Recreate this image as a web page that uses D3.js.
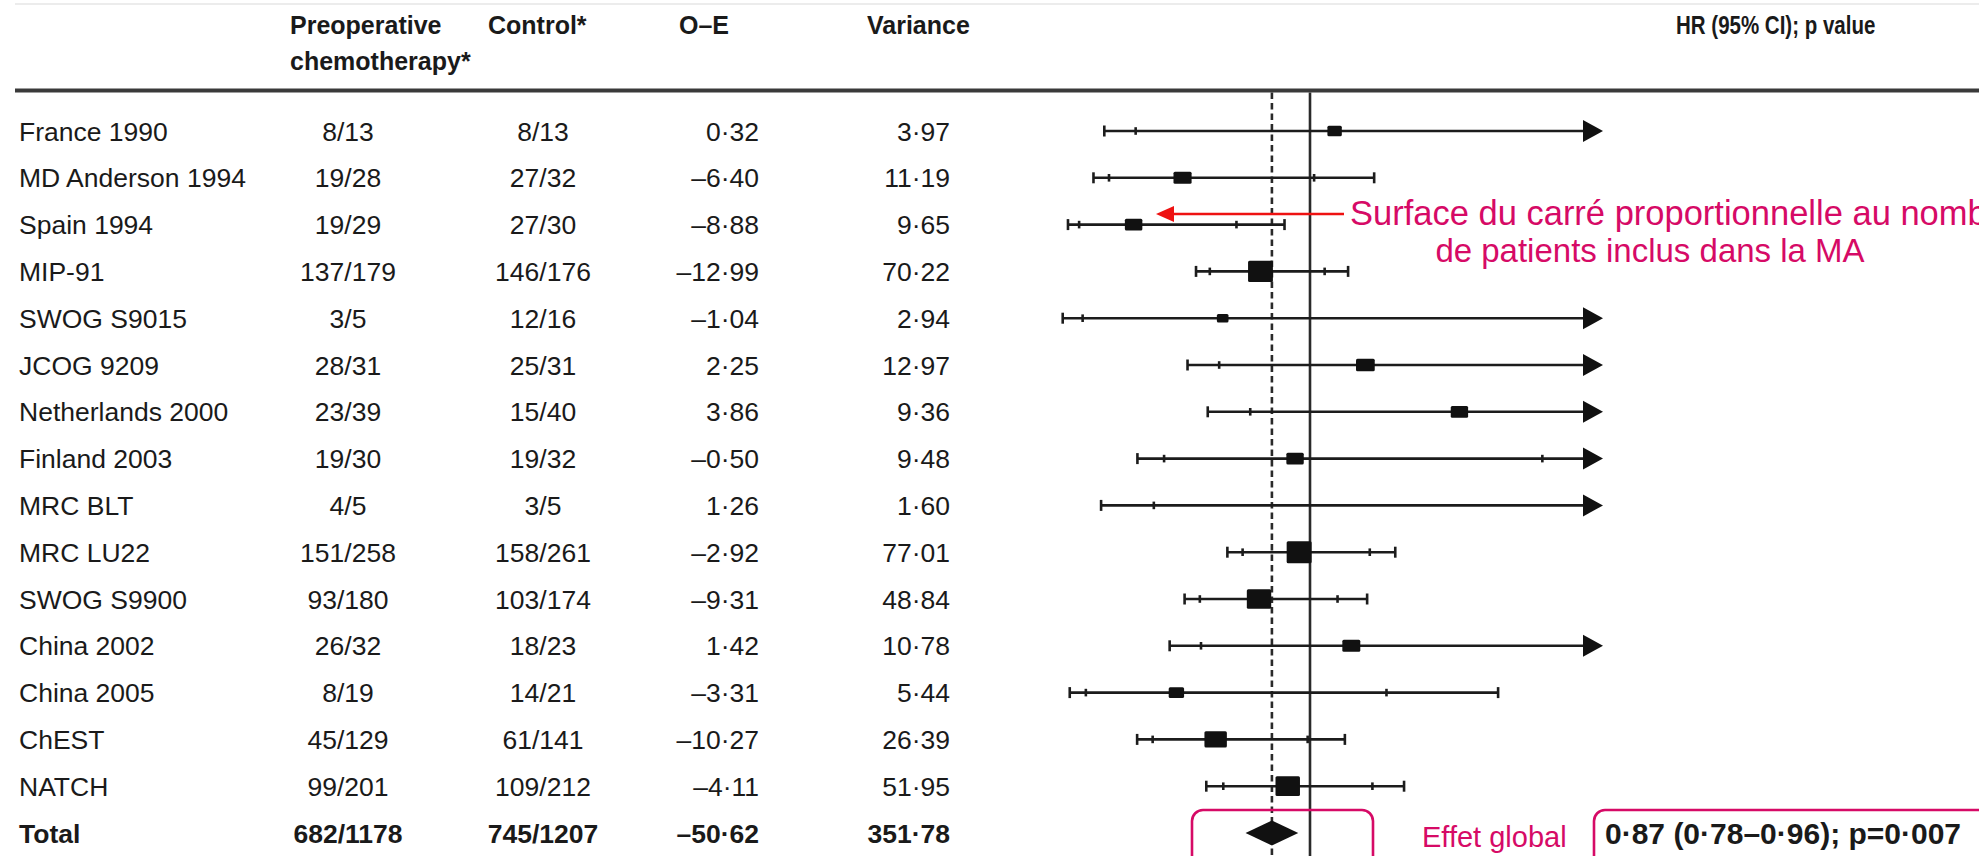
<!DOCTYPE html>
<html>
<head>
<meta charset="utf-8">
<script src="https://cdn.jsdelivr.net/npm/d3@7"></script>
<style>
  html, body { margin: 0; padding: 0; background: #fff; overflow: hidden; }
  svg { display: block; }
  .tbl { font-family: "Liberation Sans", Arial, sans-serif; font-size: 26.5px; fill: #1a1a1a; }
  .hdr { font-weight: bold; font-size: 25px; }
  .note { font-family: "Liberation Sans", Arial, sans-serif; font-size: 33px; fill: #d60a66; }
</style>
</head>
<body>
<svg id="chart" width="1979" height="856"></svg>
<script>
// ---- Trial data ----
const studies = ["France 1990", "MD Anderson 1994", "Spain 1994", "MIP-91", "SWOG S9015",
  "JCOG 9209", "Netherlands 2000", "Finland 2003", "MRC BLT", "MRC LU22",
  "SWOG S9900", "China 2002", "China 2005", "ChEST", "NATCH"];
const preop = ["8/13", "19/28", "19/29", "137/179", "3/5", "28/31", "23/39", "19/30", "4/5",
  "151/258", "93/180", "26/32", "8/19", "45/129", "99/201"];
const control = ["8/13", "27/32", "27/30", "146/176", "12/16", "25/31", "15/40", "19/32", "3/5",
  "158/261", "103/174", "18/23", "14/21", "61/141", "109/212"];
const oe = [0.32, -6.40, -8.88, -12.99, -1.04, 2.25, 3.86, -0.50, 1.26, -2.92, -9.31, 1.42, -3.31, -10.27, -4.11];
const variance = [3.97, 11.19, 9.65, 70.22, 2.94, 12.97, 9.36, 9.48, 1.60, 77.01, 48.84, 10.78, 5.44, 26.39, 51.95];

// Hazard ratios with 95% (inner ticks) and 99% (line ends) confidence limits
const hr   = [1.084, 0.565, 0.398, 0.831, 0.702, 1.189, 1.510, 0.949, 2.198, 0.963, 0.826, 1.141, 0.544, 0.678, 0.924];
const lo99 = [0.298, 0.261, 0.174, 0.611, 0.156, 0.582, 0.651, 0.411, 0.287, 0.718, 0.572, 0.521, 0.180, 0.410, 0.646];
const lo95 = [0.405, 0.314, 0.212, 0.658, 0.224, 0.690, 0.796, 0.502, 0.467, 0.770, 0.624, 0.628, 0.235, 0.463, 0.704];
const hi95 = [2.899, 1.014, 0.749, 1.050, 2.202, 2.050, 2.866, 1.793, 10.35, 1.204, 1.094, 2.072, 1.261, 0.992, 1.213];
const hi99 = [3.949, 1.219, 0.913, 1.130, 3.154, 2.432, 3.506, 2.190, 16.84, 1.291, 1.195, 2.500, 1.642, 1.119, 1.321];

// Pooled result
const totalLabel = "Total";
const totalPreop = "682/1178";
const totalControl = "745/1207";
const totalOE = -50.62;
const totalVariance = 351.78;
const totalHR = 0.87;
const totalLo = 0.78;
const totalHi = 0.96;
const totalP = 0.007;

// Column headings
const headPreop = ["Preoperative", "chemotherapy*"];
const headControl = "Control*";
const headOE = "O–E";
const headVar = "Variance";
const headHR = "HR (95% CI); p value";

// Annotations
const noteSquare = ["Surface du carré proportionnelle au nombre", "de patients inclus dans la MA"];
const noteGlobal = "Effet global";

// ---- Helpers ----
const fmt = (v, d = 2) => (v < 0 ? "–" : "") + Math.abs(v).toFixed(d).replace(".", "·");

const svg = d3.select("#chart");
const W = 1979, H = 856;

const rows = [...studies, totalLabel];
const y = d3.scalePoint().domain(rows).range([131, 833]);
const x = d3.scaleLinear().domain([0, 2]).range([1017, 1603]);
const [hrMin, hrMax] = x.domain();

// box size grows with the square root of the variance
const boxW = d3.scaleLinear().domain([1.7, 2, 3.3, 5.1, 7, 8.8]).range([11.5, 14.5, 18, 22.4, 24.4, 25]).clamp(true);
const boxH = d3.scaleLinear().domain([1.7, 2, 3.3, 5.1, 7, 8.8]).range([8.5, 10.5, 12, 16, 19.5, 22]).clamp(true);

// ---- Rules ----
svg.append("line").attr("x1", 15).attr("x2", W).attr("y1", 4).attr("y2", 4)
  .attr("stroke", "#ececec").attr("stroke-width", 2);
svg.append("line").attr("x1", 15).attr("x2", W).attr("y1", 90.5).attr("y2", 90.5)
  .attr("stroke", "#3a3a3a").attr("stroke-width", 4);

// ---- Headings ----
const hg = svg.append("g").attr("class", "tbl hdr");
hg.append("text").attr("x", 290).attr("y", 34).text(headPreop[0]);
hg.append("text").attr("x", 290).attr("y", 70).text(headPreop[1]);
hg.append("text").attr("x", 488).attr("y", 34).text(headControl);
hg.append("text").attr("x", 679).attr("y", 34).text(headOE);
hg.append("text").attr("x", 867).attr("y", 34).text(headVar);
// condensed heading over the estimate column
const hrSqueeze = 0.82;
hg.append("g").attr("transform", `translate(1676,34) scale(${hrSqueeze},1)`)
  .append("text").attr("x", 0).attr("y", 0).text(headHR);

// ---- Table body ----
const tableRows = studies.map((s, i) => ({
  name: s, pre: preop[i], ctl: control[i], oe: oe[i], v: variance[i], bold: false
}));
tableRows.push({ name: totalLabel, pre: totalPreop, ctl: totalControl, oe: totalOE, v: totalVariance, bold: true });

const tg = svg.append("g").attr("class", "tbl");
const tr = tg.selectAll("g.row").data(tableRows).join("g")
  .attr("class", "row")
  .attr("transform", d => `translate(0,${y(d.name) + 9.5})`)
  .style("font-weight", d => d.bold ? "bold" : null);
tr.append("text").attr("x", 19).text(d => d.name);
tr.append("text").attr("x", 348).attr("text-anchor", "middle").text(d => d.pre);
tr.append("text").attr("x", 543).attr("text-anchor", "middle").text(d => d.ctl);
tr.append("text").attr("x", 759).attr("text-anchor", "end").text(d => fmt(d.oe));
tr.append("text").attr("x", 950).attr("text-anchor", "end").text(d => fmt(d.v));

// ---- Reference lines ----
const plotTop = 92.5;
svg.append("line").attr("x1", x(totalHR)).attr("x2", x(totalHR)).attr("y1", plotTop).attr("y2", H)
  .attr("stroke", "#2a2a2a").attr("stroke-width", 2.6).attr("stroke-dasharray", "6.5,4");
svg.append("line").attr("x1", x(1)).attr("x2", x(1)).attr("y1", plotTop).attr("y2", H)
  .attr("stroke", "#2a2a2a").attr("stroke-width", 2.6);

// ---- Trial estimates ----
const trials = studies.map((s, i) => ({
  name: s, hr: hr[i], lo99: lo99[i], lo95: lo95[i], hi95: hi95[i], hi99: hi99[i], v: variance[i]
}));
const fg = svg.append("g").attr("fill", "#111").attr("stroke", "#1c1c1c");
const tg2 = fg.selectAll("g.trial").data(trials).join("g")
  .attr("class", "trial")
  .attr("transform", d => `translate(0,${y(d.name)})`);

const arrowLen = 20, arrowHalf = 11;
tg2.append("line")
  .attr("x1", d => x(Math.max(hrMin, d.lo99)))
  .attr("x2", d => d.hi99 > hrMax ? x(hrMax) - arrowLen + 2 : x(d.hi99))
  .attr("y1", 0).attr("y2", 0)
  .attr("stroke-width", 2.6);

// 99% end caps
tg2.append("line")
  .attr("x1", d => x(d.lo99)).attr("x2", d => x(d.lo99))
  .attr("y1", -5.5).attr("y2", 5.5).attr("stroke-width", 2.6);
tg2.filter(d => d.hi99 <= hrMax).append("line")
  .attr("x1", d => x(d.hi99)).attr("x2", d => x(d.hi99))
  .attr("y1", -5.5).attr("y2", 5.5).attr("stroke-width", 2.6);

// 95% ticks
tg2.append("line")
  .attr("x1", d => x(d.lo95)).attr("x2", d => x(d.lo95))
  .attr("y1", -3.8).attr("y2", 3.8).attr("stroke-width", 2.6);
tg2.filter(d => d.hi95 <= hrMax).append("line")
  .attr("x1", d => x(d.hi95)).attr("x2", d => x(d.hi95))
  .attr("y1", -3.8).attr("y2", 3.8).attr("stroke-width", 2.6);

// arrows for intervals running off the scale
tg2.filter(d => d.hi99 > hrMax).append("path")
  .attr("stroke", "none")
  .attr("d", () => {
    const t = x(hrMax);
    return `M${t},0L${t - arrowLen},${-arrowHalf}L${t - arrowLen},${arrowHalf}Z`;
  });

// squares (only when the estimate is on the scale)
tg2.filter(d => d.hr <= hrMax).append("rect")
  .attr("stroke", "none")
  .attr("x", d => x(d.hr) - boxW(Math.sqrt(d.v)) / 2)
  .attr("y", d => -boxH(Math.sqrt(d.v)) / 2)
  .attr("width", d => boxW(Math.sqrt(d.v)))
  .attr("height", d => boxH(Math.sqrt(d.v)))
  .attr("rx", 1.5);

// ---- Pooled diamond ----
const yT = y(totalLabel);
svg.append("path")
  .attr("fill", "#111")
  .attr("d", `M${x(totalLo)},${yT}L${x(totalHR)},${yT - 12.5}L${x(totalHi)},${yT}L${x(totalHR)},${yT + 12.5}Z`);

// ---- Annotations ----
const pink = "#d60a66";
// box around the pooled estimate
svg.append("rect").attr("x", 1192).attr("y", 810).attr("width", 181).attr("height", 70).attr("rx", 11)
  .attr("fill", "none").attr("stroke", pink).attr("stroke-width", 2.6);
svg.append("text").attr("class", "note").attr("x", 1422).attr("y", 847)
  .style("font-size", "29px").text(noteGlobal);

// box around the pooled HR label
svg.append("rect").attr("x", 1594).attr("y", 810).attr("width", 420).attr("height", 70).attr("rx", 11)
  .attr("fill", "none").attr("stroke", pink).attr("stroke-width", 2.6);
svg.append("text").attr("class", "tbl").attr("x", 1605).attr("y", 844)
  .style("font-size", "30px").style("font-weight", "bold")
  .text(`${fmt(totalHR)} (${fmt(totalLo)}–${fmt(totalHi)}); p=${fmt(totalP, 3)}`);

// pointer to the box-size note
const ay = 214;
svg.append("line").attr("x1", 1344).attr("x2", 1170).attr("y1", ay).attr("y2", ay)
  .attr("stroke", "#ee1111").attr("stroke-width", 2.6);
svg.append("path").attr("fill", "#ee1111")
  .attr("d", `M1156,${ay}L1174,${ay - 8}L1174,${ay + 8}Z`);
svg.append("text").attr("class", "note").attr("x", 1350).attr("y", 225)
  .style("font-size", "34.5px").text(noteSquare[0]);
svg.append("text").attr("class", "note").attr("x", 1650).attr("y", 262)
  .attr("text-anchor", "middle").text(noteSquare[1]);
</script>
</body>
</html>
